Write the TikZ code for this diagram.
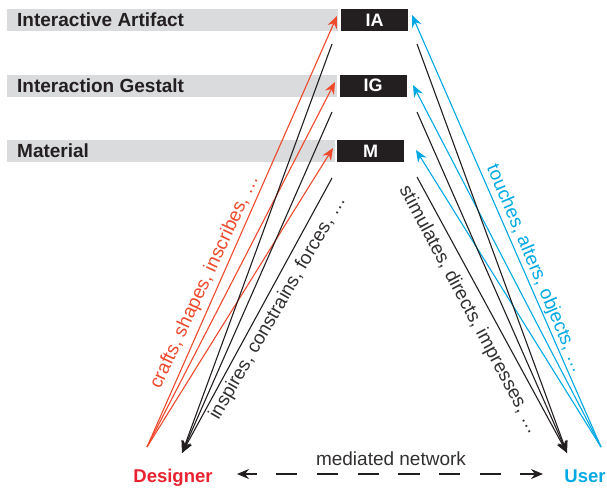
\documentclass[tikz,border=0pt]{standalone}
\usepackage{fontspec}
\setmainfont{Liberation Sans}
\usetikzlibrary{arrows.meta}
\definecolor{barGray}{RGB}{218,219,221}
\definecolor{boxBlack}{RGB}{35,31,32}
\definecolor{arrRed}{RGB}{239,73,44}
\definecolor{desRed}{RGB}{232,34,46}
\definecolor{usrBlue}{RGB}{0,169,228}
\definecolor{labGray}{RGB}{50,47,48}
\begin{document}
\begin{tikzpicture}[x=1pt,y=-1pt,
  bar/.style={fill=barGray, minimum height=22pt, inner sep=0pt},
  blk/.style={fill=boxBlack, text=white, font=\bfseries\fontsize{18}{20}\selectfont, minimum height=22pt, minimum width=67pt, inner sep=0pt},
  ttl/.style={font=\bfseries\fontsize{19}{21}\selectfont, text=boxBlack, anchor=west, inner sep=0pt},
  lab/.style={font=\fontsize{19}{21}\selectfont, inner sep=0pt},
  role/.style={font=\bfseries\fontsize{18.5}{20}\selectfont, inner sep=0pt, anchor=base},
  conn/.style={line width=1.1pt},
  tipA/.style={-{Stealth[length=12pt,width=10pt,inset=4pt]}},
]
\useasboundingbox (0,0) rectangle (607,490);

% gray bars with titles
\node[bar, minimum width=331pt] (barIA) at (172.5,20) {};
\node[bar, minimum width=330pt] (barIG) at (172,85.5) {};
\node[bar, minimum width=328pt] (barM) at (171,151) {};
\node[ttl] (tIA) at (17,20) {Interactive Artifact};
\node[ttl] (tIG) at (17,85.5) {Interaction Gestalt};
\node[ttl] (tM) at (17,151) {Material};

% black boxes
\node[blk] (IA) at (374.5,20) {IA};
\node[blk] (IG) at (373,85.5) {IG};
\node[blk] (M) at (370.5,151) {M};

% roles
\node[role, text=desRed] (Designer) at (173,482) {Designer};
\node[role, text=usrBlue] (User) at (585,482) {User};

% connector end points
\coordinate (dS) at (147,447);
\coordinate (dT) at (182,453);
\coordinate (uS) at (601,447);
\coordinate (uT) at (567,453);
\coordinate (rIA) at (337,16);
\coordinate (rIG) at (335,82);
\coordinate (rM) at (333,148);
\coordinate (kIA) at (332,44);
\coordinate (kIG) at (332,112);
\coordinate (kM) at (332,178);
\coordinate (bIA) at (412,15);
\coordinate (bIG) at (413,85);
\coordinate (bM) at (416,150);
\coordinate (sIA) at (417,44);
\coordinate (sIG) at (417,112);
\coordinate (sM) at (417,177);
\coordinate (mL) at (237,474);
\coordinate (mR) at (543,474);

% designer side
\draw[conn, arrRed, tipA] (dS) -- (rIA);
\draw[conn, arrRed, tipA] (dS) -- (rIG);
\draw[conn, arrRed, tipA] (dS) -- (rM);
\draw[conn, boxBlack, tipA] (kIA) -- (dT);
\draw[conn, boxBlack, tipA] (kIG) -- (dT);
\draw[conn, boxBlack, tipA] (kM) -- (dT);

% user side
\draw[conn, usrBlue, tipA] (uS) -- (bIA);
\draw[conn, usrBlue, tipA] (uS) -- (bIG);
\draw[conn, usrBlue, tipA] (uS) -- (bM);
\draw[conn, boxBlack, tipA] (sIA) -- (uT);
\draw[conn, boxBlack, tipA] (sIG) -- (uT);
\draw[conn, boxBlack, tipA] (sM) -- (uT);

% mediated network
\draw[conn, boxBlack, dash pattern=on 21.2pt off 19.5pt, dash phase=9pt,
  {Stealth[length=12pt,width=10pt,inset=4pt]}-{Stealth[length=12pt,width=10pt,inset=4pt]}] (mL) -- (mR);
\node[lab, text=labGray, anchor=base] (med) at (391,465) {mediated network};

% rotated labels
\node[lab, text=arrRed, rotate=65] (crafts) at (205,282) {crafts, shapes, inscribes, …};
\node[lab, text=labGray, rotate=60] (inspires) at (278,308) {inspires, constrains, forces, …};
\node[lab, text=labGray, rotate=-62] (stim) at (469,310) {stimulates, directs, impresses, …};
\node[lab, text=usrBlue, rotate=-67] (touch) at (535,269) {touches, alters, objects, …};
\end{tikzpicture}
\end{document}
